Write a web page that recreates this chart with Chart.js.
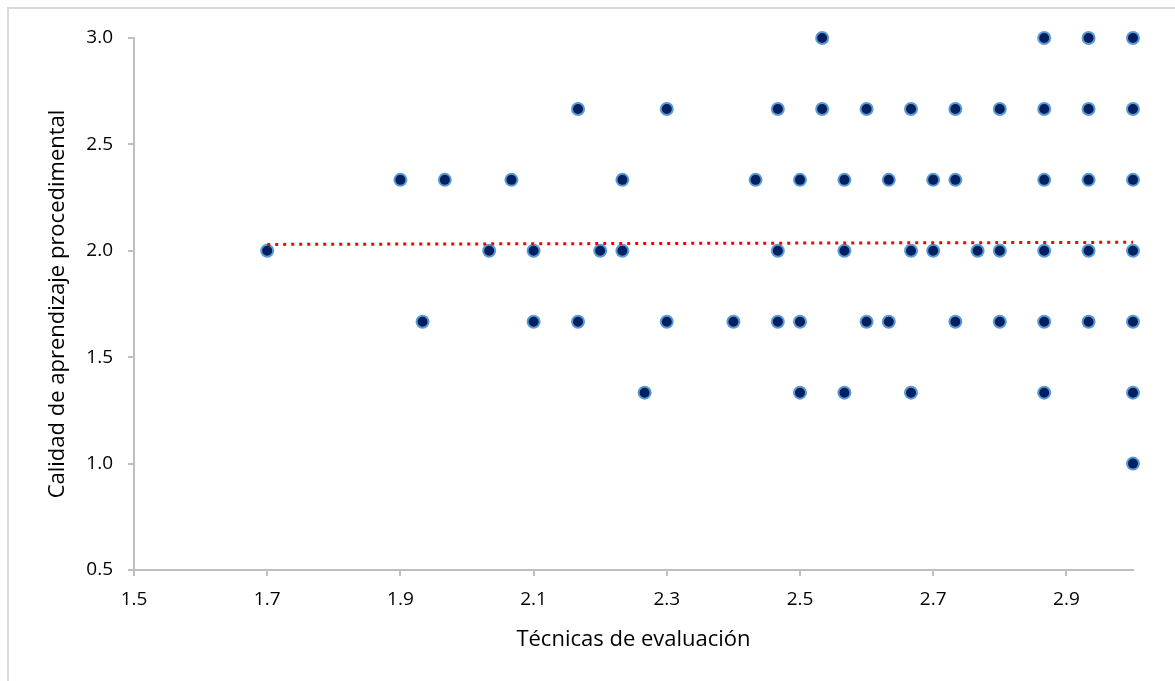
<!DOCTYPE html>
<html>
<head>
<meta charset="utf-8">
<script src="https://cdn.jsdelivr.net/npm/chart.js"></script>
<style>
  html, body { margin: 0; padding: 0; background: #fff; overflow: hidden; }
  #wrap { position: relative; width: 1175px; height: 681px; }
  #frame { position: absolute; left: 7px; top: 7px; width: 1300px; height: 800px; border: 2px solid #d9d9d9; }
  canvas { position: absolute; left: 0; top: 0; }
</style>
</head>
<body>
<div id="wrap">
  <div id="frame"></div>
  <canvas id="chart" width="1175" height="681"></canvas>
</div>
<script>
// Técnicas de evaluación (x) vs Calidad de aprendizaje procedimental (y)
const xValues = [
  1.7, 1.9, 1.9333, 1.9667, 2.0333, 2.0667,
  2.1, 2.1, 2.1667, 2.1667, 2.2, 2.2333, 2.2333, 2.2667,
  2.3, 2.3, 2.4, 2.4333, 2.4667, 2.4667, 2.4667,
  2.5, 2.5, 2.5, 2.5333, 2.5333, 2.5667, 2.5667, 2.5667,
  2.6, 2.6, 2.6333, 2.6333, 2.6667, 2.6667, 2.6667,
  2.7, 2.7, 2.7333, 2.7333, 2.7333, 2.7667, 2.8, 2.8, 2.8,
  2.8667, 2.8667, 2.8667, 2.8667, 2.8667, 2.8667,
  2.9333, 2.9333, 2.9333, 2.9333, 2.9333,
  3.0, 3.0, 3.0, 3.0, 3.0, 3.0, 3.0
];
const yValues = [
  2.0, 2.3333, 1.6667, 2.3333, 2.0, 2.3333,
  2.0, 1.6667, 2.6667, 1.6667, 2.0, 2.3333, 2.0, 1.3333,
  2.6667, 1.6667, 1.6667, 2.3333, 2.6667, 2.0, 1.6667,
  2.3333, 1.6667, 1.3333, 3.0, 2.6667, 2.3333, 2.0, 1.3333,
  2.6667, 1.6667, 2.3333, 1.6667, 2.6667, 2.0, 1.3333,
  2.3333, 2.0, 2.6667, 2.3333, 1.6667, 2.0, 2.6667, 2.0, 1.6667,
  3.0, 2.6667, 2.3333, 2.0, 1.6667, 1.3333,
  3.0, 2.6667, 2.3333, 2.0, 1.6667,
  3.0, 2.6667, 2.3333, 2.0, 1.6667, 1.3333, 1.0
];
// linear trend line end points
const trendX = [1.7, 3.0];
const trendY = [2.03, 2.04];

const xTicks = [1.5, 1.7, 1.9, 2.1, 2.3, 2.5, 2.7, 2.9];
const yTicks = [0.5, 1.0, 1.5, 2.0, 2.5, 3.0];

const xTitle = 'Técnicas de evaluación';
const yTitle = 'Calidad de aprendizaje procedimental';

const FONT = "'Open Sans', 'Liberation Sans', sans-serif";
const axisGray = '#bfbfbf';

const points = xValues.map((x, i) => ({ x, y: yValues[i] }));
const trend = trendX.map((x, i) => ({ x, y: trendY[i] }));

new Chart(document.getElementById('chart').getContext('2d'), {
  type: 'scatter',
  data: {
    datasets: [
      {
        type: 'line',
        label: 'Lineal',
        data: trend,
        borderColor: '#ff0000',
        borderWidth: 3,
        borderDash: [3, 5],
        pointRadius: 0,
        fill: false,
        order: 0,
        clip: false
      },
      {
        label: 'Datos',
        data: points,
        backgroundColor: '#002060',
        borderColor: '#5b9bd5',
        borderWidth: 2,
        pointRadius: 6,
        pointHoverRadius: 6,
        order: 1,
        clip: false
      }
    ]
  },
  options: {
    responsive: false,
    animation: false,
    layout: { padding: { left: 45, right: 42, top: 38, bottom: 28 } },
    plugins: {
      legend: { display: false },
      tooltip: { enabled: false }
    },
    scales: {
      x: {
        type: 'linear',
        min: 1.5,
        max: 3.0,
        afterBuildTicks: s => { s.ticks = xTicks.map(v => ({ value: v })); },
        afterFit: s => { s.height = 83; },
        grid: { drawOnChartArea: false, drawTicks: true, tickLength: 6, color: axisGray, lineWidth: 2 },
        border: { display: true, color: axisGray, width: 2 },
        ticks: {
          padding: 12,
          color: '#000',
          font: { family: FONT, size: 19 },
          maxRotation: 0,
          callback: v => v.toFixed(1)
        },
        title: {
          display: true,
          text: xTitle,
          color: '#000',
          padding: 0,
          font: { family: FONT, size: 22 }
        }
      },
      y: {
        type: 'linear',
        min: 0.5,
        max: 3.0,
        afterBuildTicks: s => { s.ticks = yTicks.map(v => ({ value: v })); },
        afterFit: s => { s.width = 89; },
        grid: { drawOnChartArea: false, drawTicks: true, tickLength: 6, color: axisGray, lineWidth: 2 },
        border: { display: true, color: axisGray, width: 2 },
        ticks: {
          padding: 15,
          color: '#000',
          font: { family: FONT, size: 19 },
          callback: v => v.toFixed(1)
        },
        title: {
          display: true,
          text: yTitle,
          color: '#000',
          padding: 0,
          font: { family: FONT, size: 22 }
        }
      }
    }
  }
});
</script>
</body>
</html>
